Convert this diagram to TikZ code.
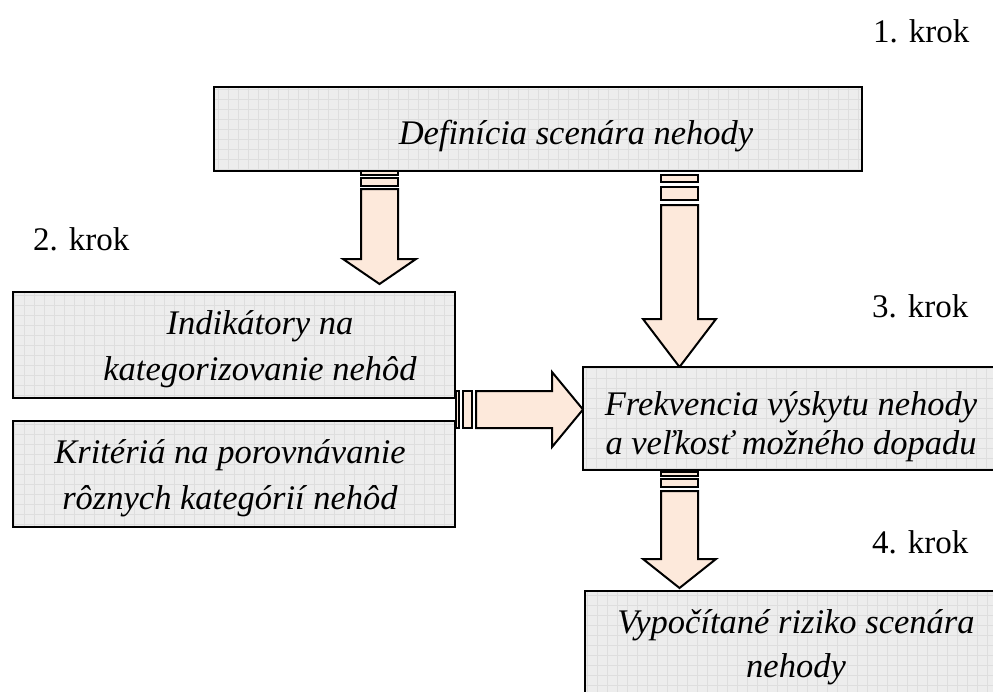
\documentclass[tikz,border=0pt]{standalone}
\usepackage{fontspec}
\setmainfont{Liberation Serif}
\definecolor{peach}{RGB}{253,233,219}
\definecolor{boxgray}{RGB}{237,237,237}
\definecolor{gridgray}{RGB}{222,222,222}
\begin{document}
\begin{tikzpicture}[
            x=1pt, y=-1pt,
            blk/.style={draw, line width=2.5pt, rectangle, inner sep=0pt, fill=boxgray,
              path picture={\draw[gridgray, line width=0.6pt] (path picture bounding box.south west) grid[step=10pt] (path picture bounding box.north east);}},
            txt/.style={anchor=base, align=center, inner sep=0pt, font=\itshape\fontsize{34.5}{46}\selectfont},
            lbl/.style={anchor=base west, inner sep=0pt, font=\fontsize{33}{40}\selectfont},
            arr/.style={draw, line width=2pt, fill=peach}
        ]
           \useasboundingbox (0,0) rectangle (993,691);

           % block arrows
           \draw[arr] (361,168) rectangle (398,175);
           \draw[arr] (361,178) rectangle (398,186);
           \draw[arr] (361,189) -- (398,189) -- (398,259) -- (416,259) -- (379.5,284) -- (343,259) -- (361,259) -- cycle;

           \draw[arr] (661,175) rectangle (698,182);
           \draw[arr] (661,187) rectangle (698,200);
           \draw[arr] (661,205) -- (698,205) -- (698,319) -- (716,319) -- (679.5,367) -- (643,319) -- (661,319) -- cycle;

           \draw[arr] (456,391) rectangle (459,428);
           \draw[arr] (463,391) rectangle (472,428);
           \draw[arr] (476,391) -- (552,391) -- (552,372) -- (583,409.5) -- (552,447) -- (552,428) -- (476,428) -- cycle;

           \draw[arr] (661,472) rectangle (698,476);
           \draw[arr] (661,479) rectangle (698,487);
           \draw[arr] (661,491) -- (698,491) -- (698,559) -- (716,559) -- (679.5,588) -- (643,559) -- (661,559) -- cycle;

           % boxes
           \node[blk, minimum width=648pt, minimum height=84pt] (def) at (538,129) {};
           \node[blk, minimum width=442pt, minimum height=106pt] (ind) at (234,345) {};
           \node[blk, minimum width=442pt, minimum height=106pt] (krit) at (234,474) {};
           \node[blk, minimum width=427pt, minimum height=103pt] (frek) at (796.5,418.5) {};
           \node[blk, minimum width=425pt, minimum height=129pt] (vyp) at (797.5,655.5) {};

           \node[txt] (deftxt) at (576,144) {Definícia scenára nehody};
           \node[txt] (indtxt) at (260,380) {Indikátory na\\ kategorizovanie nehôd};
           \node[txt] (krittxt) at (230,509) {Kritériá na porovnávanie\\ rôznych kategórií nehôd};
           \begin{scope}
             \clip (583,367) rectangle (993,470);
             \node[txt, font=\itshape\fontsize{34.5}{39}\selectfont] (frektxt) at (791,454) {Frekvencia výskytu nehody\\ a veľkosť možného dopadu};
           \end{scope}
           \node[txt, font=\itshape\fontsize{34.5}{44}\selectfont] (vyptxt) at (796,677) {Vypočítané riziko scenára\\ nehody};

           % steps
           \node[lbl] (k1) at (873,42) {1. krok};
           \node[lbl] (k2) at (33,250) {2. krok};
           \node[lbl] (k3) at (872,317) {3. krok};
           \node[lbl] (k4) at (872,553) {4. krok};
        \end{tikzpicture}
\end{document}
